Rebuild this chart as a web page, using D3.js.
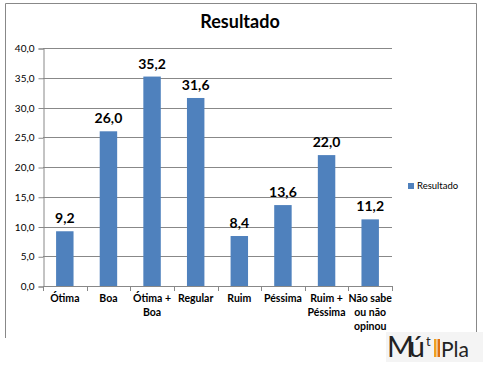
<!DOCTYPE html>
<html>
<head>
<meta charset="utf-8">
<script src="https://cdn.jsdelivr.net/npm/d3@7"></script>
<style>
body { margin: 0; background: #fff; }
text { font-family: Lato, "Open Sans", sans-serif; }
</style>
</head>
<body>
<svg id="chart" width="483" height="369"></svg>
<script>
// data
var categories = [["Ótima"], ["Boa"], ["Ótima +", "Boa"], ["Regular"], ["Ruim"], ["Péssima"], ["Ruim +", "Péssima"], ["Não sabe", "ou não", "opinou"]];
var values = [9.2, 26.0, 35.2, 31.6, 8.4, 13.6, 22.0, 11.2];
var yTicks = [0, 5, 10, 15, 20, 25, 30, 35, 40];
var seriesName = "Resultado";

var svg = d3.select("#chart");
var fmt = function(v){ return v.toFixed(1).replace(".", ","); };

// outer frame
svg.append("path").attr("d", "M5.5,338 V3.5 H476.5 V336")
  .attr("fill", "none").attr("stroke", "#888").attr("stroke-width", 1);

svg.append("text").attr("x", 240).attr("y", 28).attr("text-anchor", "middle")
  .attr("font-size", 18).attr("font-weight", "bold").text("Resultado");

var x = d3.scaleBand().domain(d3.range(values.length)).range([43, 392]).paddingInner(0.6).paddingOuter(0.3);
var y = d3.scaleLinear().domain([0, 40]).range([286, 48]);

// grid
svg.append("g").selectAll("line").data(yTicks.slice(1)).join("line")
  .attr("x1", 43).attr("x2", 392)
  .attr("y1", function(d){ return Math.round(y(d)) + 0.5; })
  .attr("y2", function(d){ return Math.round(y(d)) + 0.5; })
  .attr("stroke", "#888");

var yAxis = svg.append("g").attr("transform", "translate(43.5,0.5)")
  .call(d3.axisLeft(y).tickValues(yTicks).tickSize(5).tickFormat(fmt));
yAxis.select(".domain").attr("stroke", "#888");
yAxis.selectAll(".tick line").attr("stroke", "#888");
yAxis.selectAll("text").attr("font-size", 10).attr("font-family", "Lato, sans-serif").attr("fill", "#000").attr("dx", -1);

// bars
svg.append("g").selectAll("rect").data(values).join("rect")
  .attr("x", function(d, i){ return x(i); })
  .attr("y", function(d){ return y(d); })
  .attr("width", x.bandwidth())
  .attr("height", function(d){ return y(0) - y(d); })
  .attr("fill", "#4f81bd");

svg.append("g").selectAll("text").data(values).join("text")
  .attr("x", function(d, i){ return x(i) + x.bandwidth() / 2; })
  .attr("y", function(d){ return y(d) - 8; })
  .attr("text-anchor", "middle").attr("font-size", 14).attr("font-weight", "bold")
  .text(fmt);

// x axis
var xg = svg.append("g");
xg.append("line").attr("x1", 43).attr("x2", 392).attr("y1", 286.5).attr("y2", 286.5).attr("stroke", "#888");
xg.selectAll("line.tk").data(d3.range(values.length + 1)).join("line").attr("class", "tk")
  .attr("x1", function(i){ return Math.round(43 + i * (349 / values.length)) + 0.5; })
  .attr("x2", function(i){ return Math.round(43 + i * (349 / values.length)) + 0.5; })
  .attr("y1", 286).attr("y2", 291).attr("stroke", "#888");

xg.selectAll("text.cat").data(categories).join("text").attr("class", "cat")
  .attr("x", function(d, i){ return x(i) + x.bandwidth() / 2; })
  .attr("y", 302).attr("text-anchor", "middle").attr("font-size", 10.5).attr("font-weight", "bold")
  .each(function(d){
    var t = d3.select(this);
    d.forEach(function(line, k){
      t.append("tspan").attr("x", t.attr("x")).attr("dy", k === 0 ? 0 : 14).text(line);
    });
  });

// legend
svg.append("rect").attr("x", 408).attr("y", 183).attr("width", 6).attr("height", 6).attr("fill", "#4f81bd");
svg.append("text").attr("x", 417).attr("y", 189).attr("font-size", 9.5).text(seriesName);

// logo
var logo = svg.append("g");
logo.append("rect").attr("x", 386).attr("y", 332).attr("width", 97).attr("height", 30).attr("fill", "#f4f4f4");
logo.append("text").attr("x", 387).attr("y", 357).attr("font-size", 29).attr("font-family", "DejaVu Sans, sans-serif")
  .attr("fill", "#222").attr("textLength", 38).text("Mú");
logo.append("text").attr("x", 426).attr("y", 346).attr("font-size", 13).attr("font-family", "DejaVu Sans, sans-serif")
  .attr("fill", "#222").text("t");
logo.append("rect").attr("x", 434).attr("y", 339).attr("width", 2.5).attr("height", 18).attr("fill", "#f0a020");
logo.append("rect").attr("x", 437.5).attr("y", 339).attr("width", 2.5).attr("height", 18).attr("fill", "#e07010");
logo.append("text").attr("x", 441).attr("y", 357).attr("font-size", 21).attr("font-family", "DejaVu Sans, sans-serif")
  .attr("fill", "#222").text("Pla");
</script>
</body>
</html>
